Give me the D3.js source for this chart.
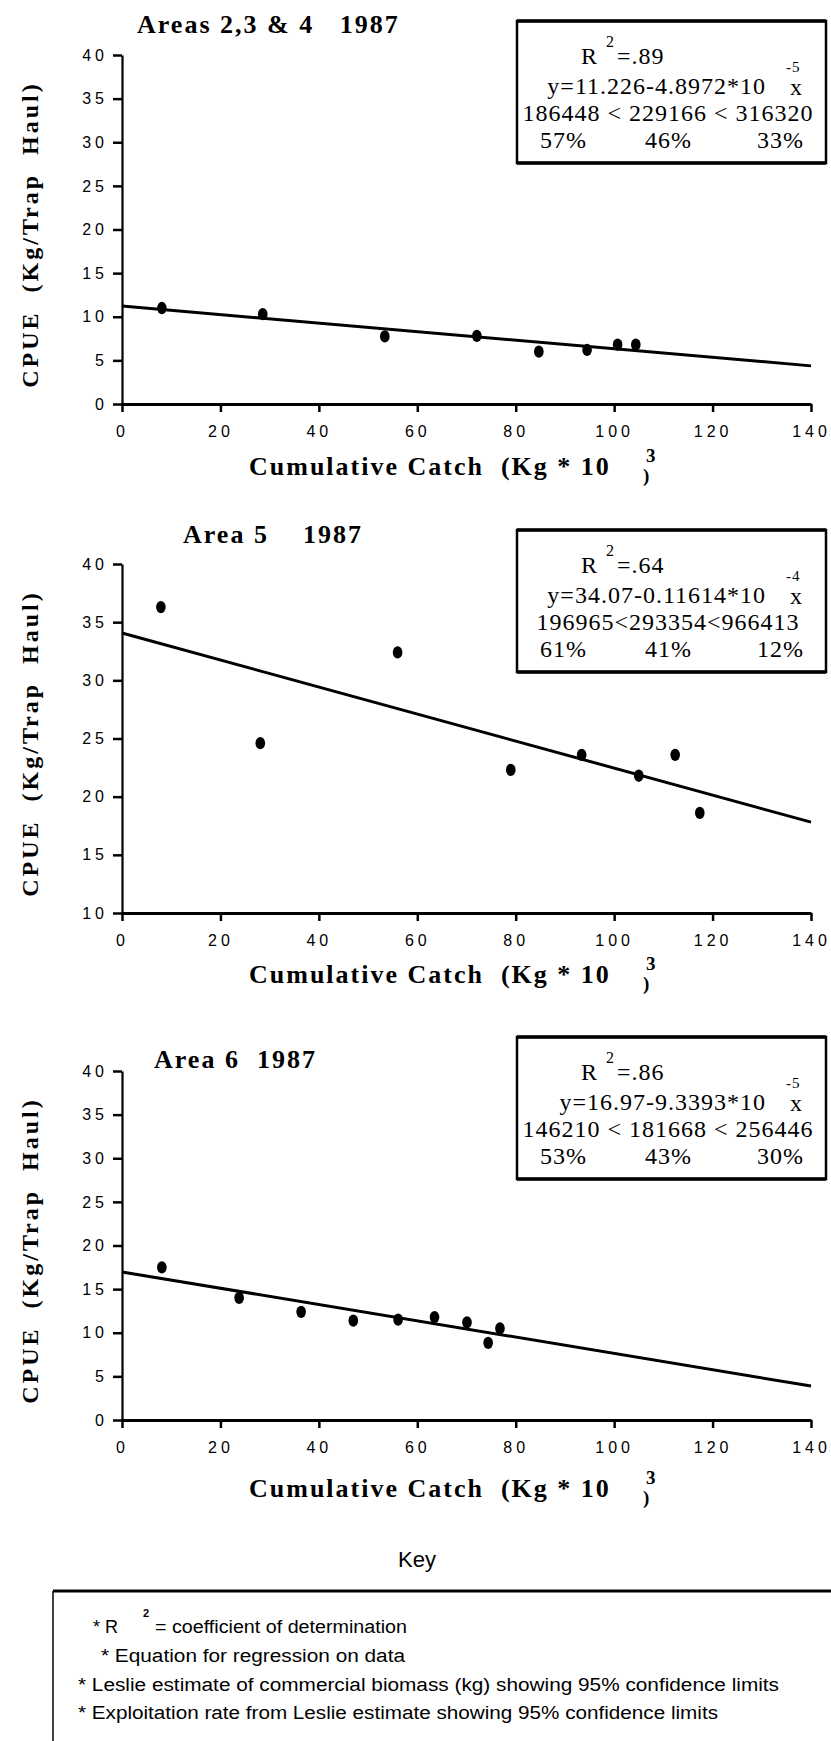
<!DOCTYPE html>
<html>
<head>
<meta charset="utf-8">
<script src="https://cdn.jsdelivr.net/npm/d3@7"></script>
<style>
  html, body { margin: 0; padding: 0; background: #fff; }
  svg text { white-space: pre; }
</style>
</head>
<body>
<svg id="fig" width="831" height="1741"></svg>
<script>
// ---- data -------------------------------------------------------------
const panelTitles = ["Areas 2,3 & 4   1987", "Area 5    1987", "Area 6  1987"];

// cumulative catch (10^3 kg) and CPUE (kg / trap haul)
const catchAreas234 = [8.1, 28.6, 53.4, 72.1, 84.7, 94.5, 100.7, 104.4];
const cpueAreas234  = [11.0, 10.3, 7.75, 7.8, 6.0, 6.2, 6.8, 6.8];
const catchArea5    = [7.9, 28.1, 56.0, 79.0, 93.4, 105.0, 112.4, 117.4];
const cpueArea5     = [36.3, 24.6, 32.4, 22.3, 23.6, 21.8, 23.6, 18.6];
const catchArea6    = [8.1, 23.8, 36.4, 47.0, 56.1, 63.5, 70.1, 74.4, 76.8];
const cpueArea6     = [17.5, 14.0, 12.4, 11.4, 11.5, 11.8, 11.2, 8.85, 10.5];

// Leslie regression: CPUE = intercept - slope * catch (catch in 10^3 kg)
const intercepts = [11.226, 34.07, 16.97];
const slopes     = [0.048972, 0.11614, 0.093393];

const yDomains = [[0, 40], [10, 40], [0, 40]];
const xTickValues = [0, 20, 40, 60, 80, 100, 120, 140];
const yTicksAreas234 = [0, 5, 10, 15, 20, 25, 30, 35, 40];
const yTicksArea5    = [10, 15, 20, 25, 30, 35, 40];
const yTicksArea6    = [0, 5, 10, 15, 20, 25, 30, 35, 40];

// statistics boxes
const r2Labels   = [".89", ".64", ".86"];
const eqLabels   = ["y=11.226-4.8972*10", "y=34.07-0.11614*10", "y=16.97-9.3393*10"];
const eqExponent = ["-5", "-4", "-5"];
const biomassCI  = ["186448 < 229166 < 316320", "196965<293354<966413", "146210 < 181668 < 256446"];
const exploitCI  = [["57%", "46%", "33%"], ["61%", "41%", "12%"], ["53%", "43%", "30%"]];

const yAxisLabel = "CPUE  (Kg/Trap  Haul)";
const xAxisLabel = "Cumulative Catch  (Kg * 10";

const keyTitle = "Key";
const keyLines = [
  "* Equation for regression on data",
  "* Leslie estimate of commercial biomass (kg) showing 95% confidence limits",
  "* Exploitation rate from Leslie estimate showing 95% confidence limits"
];

// ---- drawing ----------------------------------------------------------
const SERIF = "'Liberation Serif', 'Times New Roman', Times, serif";
const SANS  = "'Liberation Sans', Arial, Helvetica, sans-serif";

const panels = [
  { xs: catchAreas234, ys: cpueAreas234, yTicks: yTicksAreas234 },
  { xs: catchArea5,    ys: cpueArea5,    yTicks: yTicksArea5 },
  { xs: catchArea6,    ys: cpueArea6,    yTicks: yTicksArea6 }
];

const svg = d3.select("#fig");
svg.append("rect").attr("width", 831).attr("height", 1741).attr("fill", "#fff");

const X0 = 122, X1 = 811, PH = 349;
const tops = [55, 564, 1071];
const titleX = [137, 183, 154];
const titleDy = [-22, -21, -3];
const xLabelDy = [71, 70, 77];

panels.forEach((p, i) => {
  const top = tops[i];
  const bottom = top + PH;
  const g = svg.append("g");

  const x = d3.scaleLinear().domain([0, 140]).range([X0, X1]);
  const y = d3.scaleLinear().domain(yDomains[i]).range([bottom, top]);

  // axes
  const xa = g.append("g")
    .attr("transform", `translate(0,${bottom})`)
    .call(d3.axisBottom(x).tickValues(xTickValues).tickSize(8).tickSizeOuter(0)
      .tickPadding(14).tickFormat(d3.format("d")));
  const ya = g.append("g")
    .attr("transform", `translate(${X0},0)`)
    .call(d3.axisLeft(y).tickValues(p.yTicks).tickSize(9).tickSizeOuter(0)
      .tickPadding(5).tickFormat(d3.format("d")));

  [xa, ya].forEach(a => {
    a.attr("font-family", SANS).attr("font-size", 16)
     .attr("letter-spacing", "4px").attr("fill", "#000");
    a.selectAll("text").attr("fill", "#000");
    a.selectAll("line").attr("stroke", "#000").attr("stroke-width", 2.5);
  });
  xa.select(".domain").attr("stroke", "#000").attr("stroke-width", 3);
  ya.select(".domain").attr("stroke", "#000").attr("stroke-width", 2.2);

  // regression line
  const fit = d => intercepts[i] - slopes[i] * d;
  g.append("path")
    .datum([0, 140])
    .attr("fill", "none").attr("stroke", "#000").attr("stroke-width", 3)
    .attr("d", d3.line().x(d => x(d)).y(d => y(fit(d))));

  // observations
  g.selectAll("path.pt")
    .data(p.xs.map((v, k) => [v, p.ys[k]]))
    .join("path")
    .attr("class", "pt")
    .attr("fill", "#000")
    .attr("transform", d => `translate(${x(d[0])},${y(d[1])}) scale(0.9,1.15)`)
    .attr("d", d3.symbol().type(d3.symbolCircle).size(90));

  // panel title
  g.append("text")
    .attr("x", titleX[i]).attr("y", top + titleDy[i])
    .attr("font-family", SERIF).attr("font-weight", "bold")
    .attr("font-size", 26).attr("letter-spacing", "2px")
    .text(panelTitles[i]);

  // y axis title
  g.append("text")
    .attr("transform", `translate(38,${top + PH / 2 + 5}) rotate(-90)`)
    .attr("text-anchor", "middle")
    .attr("font-family", SERIF).attr("font-weight", "bold")
    .attr("font-size", 24).attr("letter-spacing", "3px")
    .text(yAxisLabel);

  // x axis title with exponent
  const xlY = bottom + xLabelDy[i];
  g.append("text")
    .attr("x", 249).attr("y", xlY)
    .attr("font-family", SERIF).attr("font-weight", "bold")
    .attr("font-size", 26).attr("letter-spacing", "2px")
    .text(xAxisLabel);
  g.append("text")
    .attr("x", 646).attr("y", xlY - 13)
    .attr("font-family", SERIF).attr("font-weight", "bold")
    .attr("font-size", 19)
    .text("3");
  g.append("text")
    .attr("x", 643).attr("y", xlY + 7)
    .attr("font-family", SERIF).attr("font-weight", "bold")
    .attr("font-size", 19)
    .text(")");

  // statistics box
  const bx0 = 517, bx1 = 826, by0 = top - 34, by1 = top + 108;
  g.append("rect")
    .attr("x", bx0).attr("y", by0).attr("width", bx1 - bx0).attr("height", by1 - by0)
    .attr("fill", "none").attr("stroke", "#000").attr("stroke-width", 2.5);
  [by0, by1].forEach(yy => g.append("line")
    .attr("x1", bx0).attr("x2", bx1).attr("y1", yy).attr("y2", yy)
    .attr("stroke", "#000").attr("stroke-width", 3.5));

  const bt = (tx, ty, s, size, anchor) => g.append("text")
    .attr("x", tx).attr("y", ty)
    .attr("text-anchor", anchor || "start")
    .attr("font-family", SERIF).attr("font-size", size || 24)
    .attr("letter-spacing", "1px")
    .text(s);

  bt(581, top + 9, "R");
  bt(606, top - 8, "2", 16);
  bt(617, top + 9, "=" + r2Labels[i]);
  bt(766, top + 39, eqLabels[i], 24, "end");
  bt(786, top + 17, eqExponent[i], 15);
  bt(790, top + 40, "x");
  bt(668, top + 66, biomassCI[i], 24, "middle");
  bt(540, top + 93, exploitCI[i][0]);
  bt(645, top + 93, exploitCI[i][1]);
  bt(757, top + 93, exploitCI[i][2]);
});

// ---- key --------------------------------------------------------------
svg.append("text")
  .attr("x", 417).attr("y", 1567)
  .attr("text-anchor", "middle")
  .attr("font-family", SANS).attr("font-size", 22)
  .text(keyTitle);

svg.append("line").attr("x1", 53).attr("x2", 831).attr("y1", 1591).attr("y2", 1591)
  .attr("stroke", "#000").attr("stroke-width", 3);
svg.append("line").attr("x1", 53).attr("x2", 53).attr("y1", 1591).attr("y2", 1741)
  .attr("stroke", "#000").attr("stroke-width", 1.5);

const keyFont = sel => sel.attr("font-family", SANS).attr("font-size", 18).attr("fill", "#000");

// first entry: R squared with its superscript
svg.append("text").attr("x", 93).attr("y", 1633).call(keyFont).text("* R");
svg.append("text").attr("x", 143).attr("y", 1617).call(keyFont)
  .attr("font-size", 11).attr("font-weight", "bold").text("2");
svg.append("text").attr("x", 155).attr("y", 1633).call(keyFont)
  .attr("textLength", 252).attr("lengthAdjust", "spacingAndGlyphs")
  .text("= coefficient of determination");

const keyX = [101, 78, 78];
const keyW = [304, 701, 640];
const keyY = [1662, 1691, 1719];
keyLines.forEach((s, k) => {
  svg.append("text").attr("x", keyX[k]).attr("y", keyY[k]).call(keyFont)
    .attr("textLength", keyW[k]).attr("lengthAdjust", "spacingAndGlyphs")
    .text(s);
});
</script>
</body>
</html>
